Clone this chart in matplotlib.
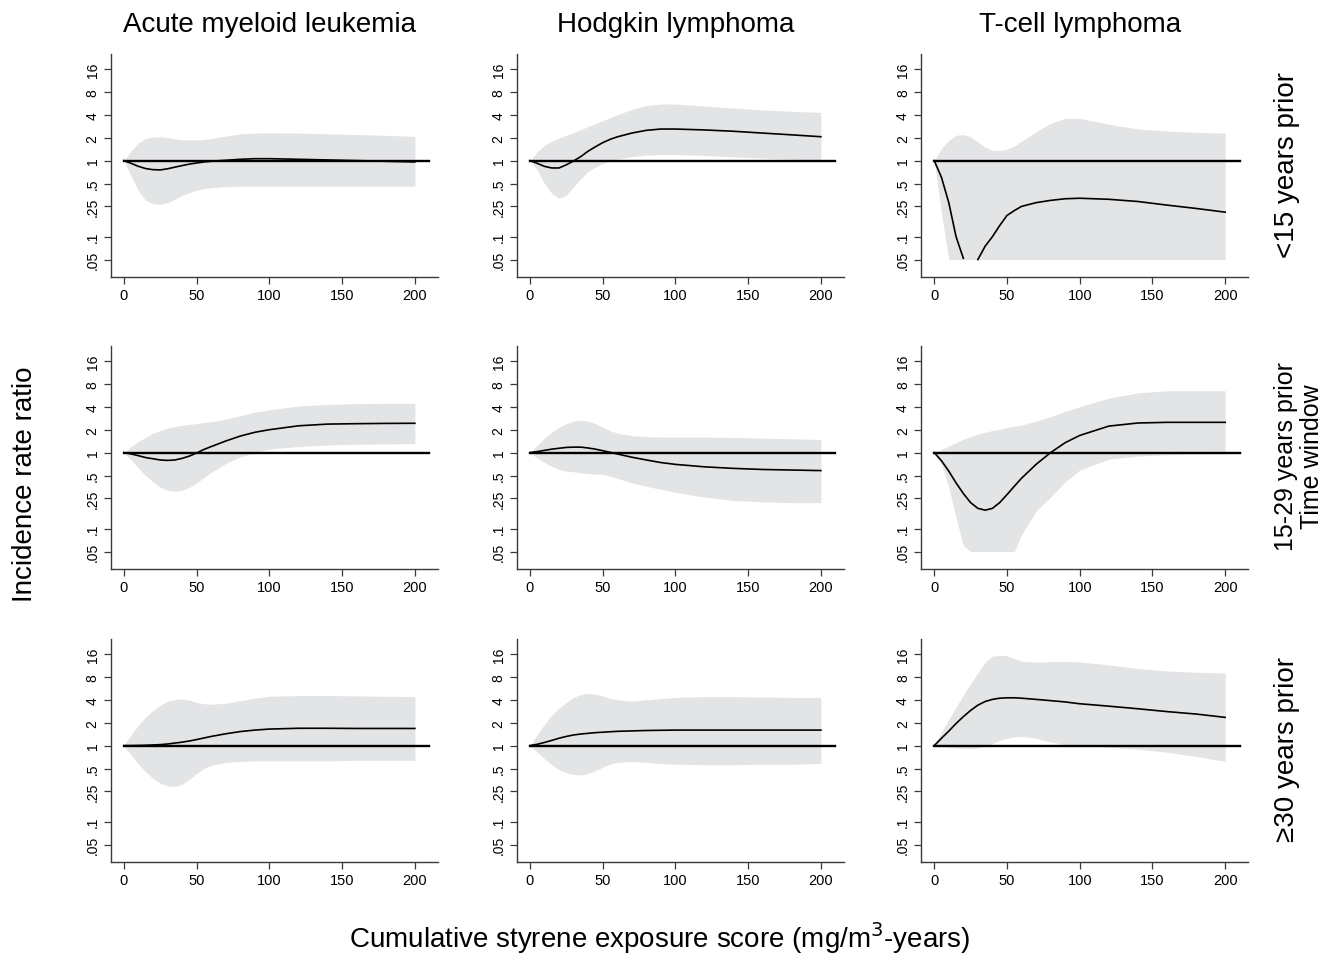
import numpy as np
import matplotlib
matplotlib.use("Agg")
import matplotlib.pyplot as plt
from matplotlib.ticker import FixedLocator, NullLocator

plt.rcParams['font.family'] = ['Liberation Sans', 'DejaVu Sans']

# exposure grid (mg/m3-years)
x = [0, 5, 10, 15, 20, 25, 30, 35, 40, 45, 50, 55, 60, 70, 80, 90, 100, 120, 140, 160, 180, 200]

cancers = ['Acute myeloid leukemia', 'Hodgkin lymphoma', 'T-cell lymphoma']
windows = ['<15 years prior', '15-29 years prior', '\u226530 years prior']
yticks = [0.05, 0.1, 0.25, 0.5, 1, 2, 4, 8, 16]
yticklabels = ['.05', '.1', '.25', '.5', '1', '2', '4', '8', '16']
xticks = [0, 50, 100, 150, 200]

# <15 years prior
aml_w1_irr = [1, .92, .84, .785, .76, .755, .78, .82, .86, .9, .93, .96, .98, 1.01, 1.04, 1.06, 1.06, 1.04, 1.02, 1.0, .98, .96]
aml_w1_lo = [1, .62, .4, .3, .27, .265, .28, .31, .35, .38, .41, .43, .44, .455, .46, .46, .46, .46, .46, .46, .46, .46]
aml_w1_hi = [1, 1.35, 1.7, 1.95, 2.05, 2.05, 2.0, 1.93, 1.88, 1.87, 1.87, 1.9, 1.95, 2.1, 2.25, 2.3, 2.32, 2.3, 2.25, 2.2, 2.15, 2.08]

hl_w1_irr = [1, .92, .84, .8, .8, .88, .99, 1.13, 1.33, 1.52, 1.72, 1.9, 2.05, 2.3, 2.5, 2.6, 2.6, 2.53, 2.43, 2.3, 2.18, 2.06]
hl_w1_lo = [1, .75, .5, .37, .32, .35, .45, .58, .72, .82, .92, .99, 1.05, 1.13, 1.18, 1.2, 1.2, 1.17, 1.12, 1.08, 1.04, 1.02]
hl_w1_hi = [1, 1.3, 1.6, 1.8, 1.97, 2.15, 2.35, 2.55, 2.8, 3.05, 3.35, 3.65, 4.0, 4.7, 5.3, 5.55, 5.55, 5.2, 4.9, 4.65, 4.45, 4.3]

tc_w1_irr = [1, .6, .28, .1, .052, np.nan, .05, .075, .1, .14, .19, .22, .25, .28, .3, .315, .32, .31, .29, .26, .235, .21]
tc_w1_lo = [1, .2, .05, .05, .05, .05, .05, .05, .05, .05, .05, .05, .05, .05, .05, .05, .05, .05, .05, .05, .05, .05]
tc_w1_hi = [1, 1.45, 1.85, 2.15, 2.2, 2.05, 1.75, 1.5, 1.37, 1.35, 1.42, 1.55, 1.8, 2.4, 3.1, 3.6, 3.6, 3.0, 2.6, 2.45, 2.35, 2.3]

# 15-29 years prior
aml_w2_irr = [1, .96, .91, .86, .83, .8, .79, .8, .84, .9, .99, 1.1, 1.2, 1.42, 1.65, 1.85, 2.0, 2.25, 2.37, 2.4, 2.42, 2.43]
aml_w2_lo = [1, .8, .62, .5, .41, .35, .32, .31, .32, .35, .4, .47, .55, .72, .88, 1.0, 1.12, 1.2, 1.26, 1.29, 1.3, 1.31]
aml_w2_hi = [1, 1.2, 1.4, 1.6, 1.8, 1.95, 2.1, 2.2, 2.28, 2.35, 2.4, 2.5, 2.55, 2.75, 3.05, 3.4, 3.65, 4.1, 4.3, 4.4, 4.45, 4.45]

hl_w2_irr = [1, 1.03, 1.07, 1.11, 1.14, 1.17, 1.18, 1.18, 1.15, 1.11, 1.06, 1.01, .96, .87, .8, .74, .7, .65, .62, .6, .59, .58]
hl_w2_lo = [1, .85, .74, .66, .6, .57, .56, .54, .53, .52, .52, .49, .46, .4, .36, .33, .3, .26, .235, .225, .22, .22]
hl_w2_hi = [1, 1.25, 1.55, 1.85, 2.15, 2.4, 2.6, 2.65, 2.6, 2.4, 2.15, 1.95, 1.8, 1.67, 1.62, 1.6, 1.6, 1.6, 1.58, 1.55, 1.52, 1.49]

tc_w2_irr = [1, .78, .57, .4, .29, .22, .185, .175, .185, .22, .28, .36, .46, .7, 1.0, 1.35, 1.68, 2.23, 2.45, 2.5, 2.5, 2.5]
tc_w2_lo = [1, .7, .35, .14, .06, .05, .05, .05, .05, .05, .05, .05, .083, .17, .26, .41, .59, .82, .9, .94, .96, .97]
tc_w2_hi = [1, 1.1, 1.22, 1.35, 1.5, 1.62, 1.75, 1.85, 1.95, 2.03, 2.15, 2.22, 2.3, 2.6, 2.95, 3.5, 4.0, 5.2, 6.1, 6.5, 6.5, 6.5]

# >=30 years prior
aml_w3_irr = [1, 1, 1.005, 1.01, 1.02, 1.03, 1.05, 1.08, 1.11, 1.15, 1.2, 1.26, 1.32, 1.43, 1.53, 1.6, 1.65, 1.69, 1.69, 1.68, 1.68, 1.68]
aml_w3_lo = [1, .75, .57, .45, .37, .32, .295, .29, .31, .36, .43, .5, .55, .6, .62, .63, .63, .63, .63, .64, .64, .64]
aml_w3_hi = [1, 1.4, 1.85, 2.4, 2.9, 3.4, 3.85, 4.05, 4.1, 3.95, 3.7, 3.55, 3.5, 3.6, 3.9, 4.2, 4.45, 4.55, 4.55, 4.5, 4.45, 4.4]

hl_w3_irr = [1, 1.04, 1.1, 1.17, 1.25, 1.32, 1.38, 1.42, 1.45, 1.48, 1.5, 1.52, 1.54, 1.56, 1.58, 1.59, 1.6, 1.6, 1.6, 1.6, 1.6, 1.6]
hl_w3_lo = [1, .82, .67, .56, .48, .44, .42, .41, .43, .47, .52, .57, .6, .62, .6, .58, .57, .56, .56, .57, .57, .58]
hl_w3_hi = [1, 1.4, 1.9, 2.5, 3.1, 3.7, 4.3, 4.7, 4.85, 4.75, 4.5, 4.2, 4.0, 3.85, 4.0, 4.15, 4.3, 4.4, 4.4, 4.35, 4.3, 4.3]

tc_w3_irr = [1, 1.25, 1.55, 1.95, 2.4, 2.9, 3.4, 3.8, 4.05, 4.2, 4.25, 4.25, 4.2, 4.05, 3.9, 3.75, 3.55, 3.3, 3.05, 2.8, 2.6, 2.35]
tc_w3_lo = [1, .97, .95, .93, .92, .91, .93, .98, 1.07, 1.17, 1.25, 1.3, 1.32, 1.25, 1.12, 1.03, 1.0, .95, .9, .82, .72, .62]
tc_w3_hi = [1, 1.5, 2.2, 3.2, 4.6, 6.5, 9.0, 12.5, 15.0, 15.3, 15.2, 14.0, 12.8, 12.5, 12.7, 12.8, 12.6, 11.5, 10.3, 9.6, 9.2, 9.0]

panels = [
    [(aml_w1_irr, aml_w1_lo, aml_w1_hi), (hl_w1_irr, hl_w1_lo, hl_w1_hi), (tc_w1_irr, tc_w1_lo, tc_w1_hi)],
    [(aml_w2_irr, aml_w2_lo, aml_w2_hi), (hl_w2_irr, hl_w2_lo, hl_w2_hi), (tc_w2_irr, tc_w2_lo, tc_w2_hi)],
    [(aml_w3_irr, aml_w3_lo, aml_w3_hi), (hl_w3_irr, hl_w3_lo, hl_w3_hi), (tc_w3_irr, tc_w3_lo, tc_w3_hi)],
]

W, H = 1328, 954
fig = plt.figure(figsize=(W / 100, H / 100), dpi=100)

lefts = [110.7, 516.7, 921]
tops = [55, 347, 640]
aw, ah = 327, 223
band_col = '#e3e4e6'
axis_col = '#3a3a3a'

for r in range(3):
    for c in range(3):
        ax = fig.add_axes([lefts[c] / W, 1 - (tops[r] + ah) / H, aw / W, ah / H])
        irr, lo, hi = panels[r][c]
        ax.fill_between(x, lo, hi, color=band_col, linewidth=0, zorder=1)
        ax.plot([0, 210], [1, 1], color='black', lw=1.7, zorder=2)
        ax.plot(x, irr, color='black', lw=1.2, zorder=3)
        ax.set_yscale('log')
        ax.set_ylim(0.0295, 25.2)
        ax.set_xlim(-9.1, 215.7)
        ax.yaxis.set_major_locator(FixedLocator(yticks))
        ax.yaxis.set_minor_locator(NullLocator())
        ax.set_yticklabels(yticklabels, rotation=90, va='center', fontsize=10)
        ax.set_xticks(xticks)
        ax.set_xticklabels([str(t) for t in xticks], fontsize=10.5)
        for s in ['top', 'right']:
            ax.spines[s].set_visible(False)
        for s in ['left', 'bottom']:
            ax.spines[s].set_color(axis_col)
            ax.spines[s].set_linewidth(1.0)
        ax.tick_params(direction='out', length=5, width=0.9, color=axis_col, pad=3)

for c, name in enumerate(cancers):
    cx = (lefts[c] + 13.3 + 145.5) / W
    fig.text(cx, 1 - 25 / H, name, ha='center', va='center', fontsize=20)

for r, name in enumerate(windows):
    cy = 1 - (tops[r] + ah / 2 - 2) / H
    if r == 1:
        fig.text(1299 / W, cy, name + '\nTime window', rotation=90, ha='center', va='center',
                 multialignment='center', linespacing=1.12, fontsize=18)
    else:
        fig.text(1287 / W, cy, name, rotation=90, ha='center', va='center', fontsize=20)

fig.text(25 / W, 1 - 484 / H, 'Incidence rate ratio', rotation=90, ha='center', va='center', fontsize=20)
fig.text(660 / W, 1 - 938 / H, 'Cumulative styrene exposure score (mg/m$^3$-years)',
         ha='center', va='center', fontsize=20)

fig.savefig('out.png', dpi=100)
